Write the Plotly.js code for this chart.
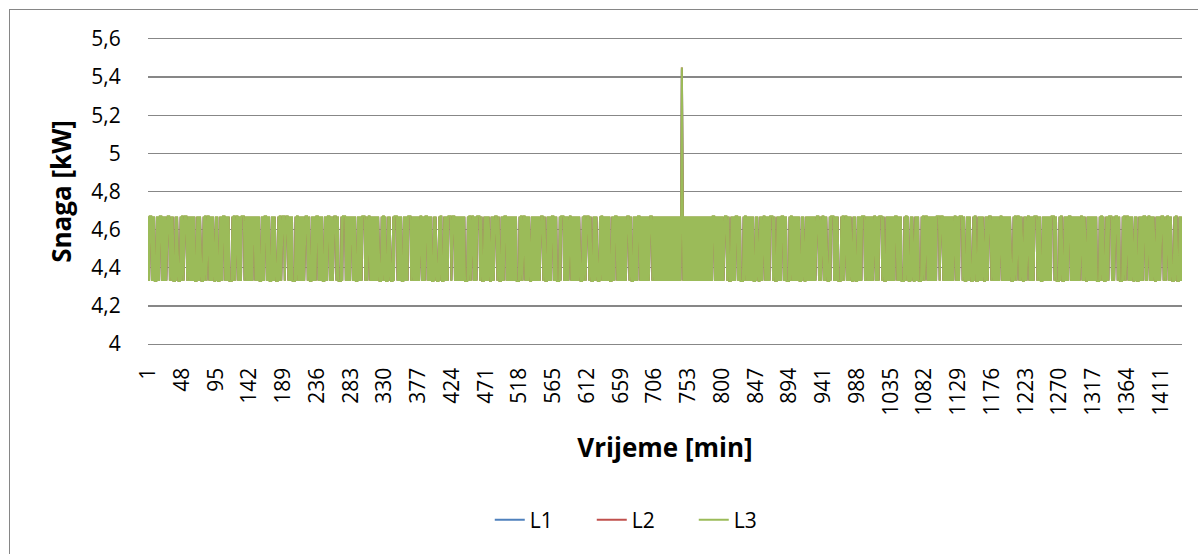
<!DOCTYPE html>
<html>
<head>
<meta charset="utf-8">
<script src="https://cdn.plot.ly/plotly-3.0.1.min.js"></script>
<style>
  html, body { margin: 0; padding: 0; background: #ffffff; overflow: hidden; }
  #wrap { position: relative; width: 1198px; height: 554px; overflow: hidden; }
  #chart { width: 1198px; height: 554px; }
  #frame { position: absolute; left: 9px; top: 9px; width: 1250px; height: 650px;
           border: 1px solid #868686; pointer-events: none; box-sizing: border-box; }
</style>
</head>
<body>
<div id="wrap">
  <div id="chart"></div>
  <div id="frame"></div>
</div>
<script>
// ---- DATA ----
const seriesNames = ['L1', 'L2', 'L3'];
const seriesColors = ['#4F81BD', '#C0504D', '#9BBB59'];

// Minute-by-minute state (1440 minutes, 48 per row).
// H = upper level, L = lower level, M = intermediate, S = spike.
const minutePattern = [
  'HLHHHLHL HLLLHLHL HHHLHLHL HLHHHHLH HLHLLLHL HLLLLHLH',
  'HLHHHHLH HLHLHLHL HLLLHLHL HLLLLHLH HLHHHLHL HLHLLLHL',
  'HLLLHLHL HHHLHLHL HLLLLHLH HLHHHLHL HLHHHHLH HLHLHLHL',
  'HLHMHLHL HLHLLLHL HLHHHLHL HLLLHLHL HLLLLHLH HLHHHHLH',
  'HHHLHLHL HLLLLHLH HLHLHLHL HLHHHHLH HLLLHLHL HLHHHLHL',
  'HLHLLLHL HLHHHLHL HLHHHHLH HLLLLHLH HHHLHLHL HLHMHLHL',
  'HLLLHLHL HLHHHHLH HLHHHLHL HLHLHLHL HLLLLHLH HLHLLLHL',
  'HLLLLHLH HHHLHLHL HLLLHLHL HLHHHHLH HLHLHLHL HLHHHLHL',
  'HLHHHLHL HLHLLLHL HLLLLHLH HLLLHLHL HLHHHHLH HHHLHLHL',
  'HLHLHLHL HLLLLHLH HLHHHLHL HLHHHHLH HLLLHLHL HLHLLLHL',
  'HLHHHHLH HLLLHLHL HHHLHLHL HLHLHLHL HLLLLHLH HLHHHLHL',
  'HLHLLLHL HLHLHLHL HLHHHHLH HLLLHLHL HLHHHLHL HLLLLHLH',
  'HHHLHLHL HLHHHLHL HLHLHLHL HLLLLHLH HLHHHHLH HLLLHLHL',
  'HLLLLHLH HLHLHLHL HLHLLLHL HLHHHLHL HLHLHLHL HLHHHHLH',
  'HLLLHLHL HLHHHLHL HLHLHLHL HLHHHHLH HLHLHLHL HLHLHLHL',
  'HLHLHLHL HLHLHLHL HLHLHLHS HLHLHLHL HLHLHLHL HLHLHLHL',
  'HLHLHLHL HLHLHLHL HLHHHLHL HLHLHLHL HLHHHHLH HLLLHLHL',
  'HLHHHLHL HLLLLHLH HLHLHLHL HLHLLLHL HLLLHLHL HHHLHLHL',
  'HLHHHHLH HLLLHLHL HLHHHLHL HLLLLHLH HLHLHLHL HLHLLLHL',
  'HLLLHLHL HLHLHLHL HLHHHHLH HLHHHLHL HLLLLHLH HHHLHLHL',
  'HLLLLHLH HLHHHLHL HLHLLLHL HLLLHLHL HLHHHHLH HLHLHLHL',
  'HLHHHLHL HLHHHHLH HLLLHLHL HLHLHLHL HHHLHLHL HLLLLHLH',
  'HLHLLLHL HLLLHLHL HLLLLHLH HLHHHLHL HLHLHLHL HLHHHHLH',
  'HHHLHLHL HLHLHLHL HLHHHLHL HLHHHHLH HLLLHLHL HLLLLHLH',
  'HLLLHLHL HLHLLLHL HLHHHHLH HLHLHLHL HLHHHLHL HLHLHLHL',
  'HLLLLHLH HLHHHLHL HLLLHLHL HHHLHLHL HLHHHHLH HLHLLLHL',
  'HLHLHLHL HLHHHHLH HLLLLHLH HLLLHLHL HLHHHLHL HLHLHLHL',
  'HLHHHLHL HLLLHLHL HLHLHLHL HLLLLHLH HLHLLLHL HLHHHHLH',
  'HLHHHHLH HLLLLHLH HLHHHLHL HLHLLLHL HLLLHLHL HLHHHLHL',
  'HHHLHLHL HLLLHLHL HLHHHHLH HLHHHLHL HLLLLHLH HLLLHLHL'
];

// Power levels [kW] per phase for each state.
const levelsL1 = { H: 4.665, L: 4.335, M: 4.50, S: 5.44 };
const levelsL2 = { H: 4.668, L: 4.332, M: 4.51, S: 5.45 };
const levelsL3 = { H: 4.670, L: 4.330, M: 4.52, S: 5.45 };

const xTickLabels = ['1','48','95','142','189','236','283','330','377','424','471','518','565',
  '612','659','706','753','800','847','894','941','988','1035','1082','1129','1176','1223',
  '1270','1317','1364','1411'];
const yTickValues = [4, 4.2, 4.4, 4.6, 4.8, 5, 5.2, 5.4, 5.6];
const yTickLabels = ['4', '4,2', '4,4', '4,6', '4,8', '5', '5,2', '5,4', '5,6'];
const totalMinutes = 1440;

// ---- BUILD ----
const states = minutePattern.join('').replace(/\s+/g, '').split('');
const minutes = states.map((_, i) => i + 1);
const levelSets = [levelsL1, levelsL2, levelsL3];

const FONT = '"Open Sans", "Noto Sans", sans-serif';
const GRID = '#878787';

const traces = seriesNames.map((name, k) => ({
  type: 'scatter',
  mode: 'lines',
  name: name,
  x: minutes,
  y: states.map(s => levelSets[k][s]),
  line: { color: seriesColors[k], width: 2 },
  hoverinfo: 'skip'
}));

const layout = {
  width: 1198,
  height: 554,
  margin: { l: 148, r: 16, t: 39, b: 210 },
  paper_bgcolor: '#ffffff',
  plot_bgcolor: '#ffffff',
  font: { family: FONT, color: '#000000', size: 21 },
  showlegend: true,
  xaxis: {
    type: 'linear',
    range: [0.5, totalMinutes + 0.5],
    tickmode: 'array',
    tickvals: xTickLabels.map(Number),
    ticktext: xTickLabels,
    tickangle: -90,
    tickfont: { family: FONT, size: 21, color: '#000000' },
    ticks: 'outside', ticklen: 14, tickcolor: 'rgba(0,0,0,0)',
    showgrid: false, zeroline: false,
    showline: true, mirror: true, linecolor: GRID, linewidth: 1.3,
    automargin: false,
    title: { text: 'Vrijeme [min]', font: { family: FONT, size: 26, weight: 'bold', color: '#000000' }, standoff: 24 }
  },
  yaxis: {
    range: [4, 5.6],
    tickmode: 'array',
    tickvals: yTickValues,
    ticktext: yTickLabels,
    tickfont: { family: FONT, size: 21, color: '#000000' },
    ticks: 'outside', ticklen: 22, tickcolor: 'rgba(0,0,0,0)',
    showgrid: true, gridcolor: GRID, gridwidth: 1.3,
    zeroline: false, showline: false,
    automargin: false,
    title: { text: 'Snaga [kW]', font: { family: FONT, size: 26, weight: 'bold', color: '#000000' }, standoff: 12 }
  },
  legend: {
    orientation: 'h',
    x: 0.4785, xanchor: 'center',
    y: -0.577, yanchor: 'middle',
    font: { family: FONT, size: 21, color: '#000000' },
    bgcolor: 'rgba(0,0,0,0)',
    entrywidth: 57
  }
};

Plotly.newPlot('chart', traces, layout, { staticPlot: true, displayModeBar: false });
</script>
</body>
</html>
